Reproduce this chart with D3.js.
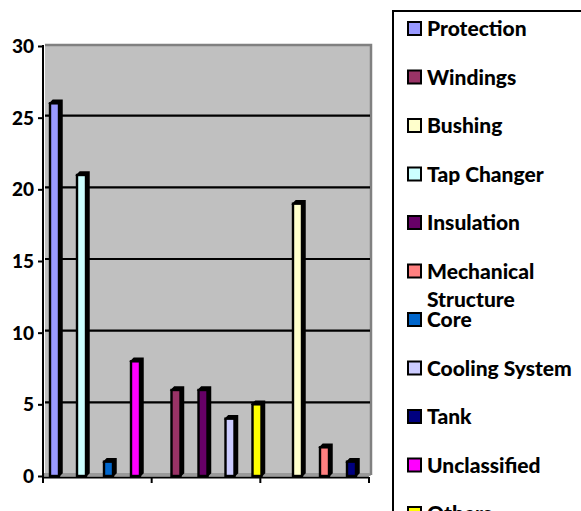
<!DOCTYPE html>
<html>
<head>
<meta charset="utf-8">
<script src="https://cdn.jsdelivr.net/npm/d3@7"></script>
<style>
  html, body { margin: 0; padding: 0; background: #fff; }
  svg { display: block; }
  text { font-family: Lato, "Open Sans", sans-serif; font-weight: 900; fill: #000; }
</style>
</head>
<body>
<svg id="chart" width="581" height="511"></svg>
<script>
// Failure counts per transformer component
const seriesNames = ["Protection", "Windings", "Bushing", "Tap Changer", "Insulation",
  "Mechanical Structure", "Core", "Cooling System", "Tank", "Unclassified", "Others"];
const seriesValues = [26, 6, 19, 21, 6, 2, 1, 4, 1, 8, 5];
const seriesColors = ["#9999FF", "#993366", "#FFFFCC", "#CCFFFF", "#660066",
  "#FF8080", "#0066CC", "#CCCCFF", "#000080", "#FF00FF", "#FFFF00"];
// Group (category) each series is drawn in, and its slot inside that group
const seriesGroup = [0, 1, 2, 0, 1, 2, 0, 1, 2, 0, 1];
const seriesSlot  = [0, 0, 0, 1, 1, 1, 2, 2, 2, 3, 3];
const categories = ["A", "B", "C"];
const yTicks = [0, 5, 10, 15, 20, 25, 30];

const svg = d3.select("#chart");

const plot = { left: 43, right: 370, top: 46, bottom: 476 };
const depth = 3;

const y = d3.scaleLinear().domain([0, 30]).range([plot.bottom, plot.top]);

// Category bands for the axis ticks
const xCat = d3.scaleBand().domain(categories).range([plot.left, 369]);
// Bar groups and slots
const xGroup = d3.scaleBand().domain([0, 1, 2]).range([42.5, 393.5]).paddingInner(13 / 117);
const xSlot = d3.scaleBand().domain([0, 1, 2, 3]).range([0, xGroup.bandwidth()]);

// Back wall
svg.append("rect")
  .attr("x", plot.left + 2).attr("y", plot.top - 2)
  .attr("width", plot.right + 1 - plot.left - 2).attr("height", plot.bottom - plot.top + 2)
  .attr("fill", "#C0C0C0");
svg.append("path")
  .attr("d", `M${plot.left + 2},${plot.top - 1}H${plot.right + 1}V${plot.bottom - 1}`)
  .attr("fill", "none").attr("stroke", "#808080").attr("stroke-width", 2.5);
// Floor strip
svg.append("rect")
  .attr("x", plot.left).attr("y", plot.bottom - 3)
  .attr("width", plot.right - plot.left).attr("height", 3)
  .attr("fill", "#9A9A9A");

// Gridlines on the back wall
svg.append("g").selectAll("line")
  .data(yTicks.filter(t => t > 0 && t < 30))
  .join("line")
  .attr("x1", plot.left + 2).attr("x2", plot.right)
  .attr("y1", d => y(d) - 2).attr("y2", d => y(d) - 2)
  .attr("stroke", "#000").attr("stroke-width", 2.2);

// Bars (front face plus dark top and side faces)
const bars = seriesNames.map((name, i) => ({
  name, value: seriesValues[i], color: seriesColors[i],
  cx: xGroup(seriesGroup[i]) + xSlot(seriesSlot[i]) + xSlot.bandwidth() / 2
}));
const barW = 9;
const gBars = svg.append("g");
bars.forEach(b => {
  const l = b.cx - 6, r = l + barW, t = y(b.value), btm = y(0);
  gBars.append("path")
    .attr("d", `M${l},${t}L${l + depth},${t - depth}H${r + depth}V${btm - depth}L${r},${btm}V${t}Z`)
    .attr("fill", "#000").attr("stroke", "#000").attr("stroke-width", 1.5);
  gBars.append("rect")
    .attr("x", l).attr("y", t).attr("width", barW).attr("height", btm - t)
    .attr("fill", b.color).attr("stroke", "#000").attr("stroke-width", 2.4);
});

// Y axis
const yAxis = svg.append("g").attr("transform", `translate(${plot.left},0)`)
  .call(d3.axisLeft(y).tickValues(yTicks).tickSize(5).tickPadding(4));
yAxis.select(".domain").remove();
yAxis.selectAll("line").attr("stroke", "#000").attr("stroke-width", 2);
yAxis.selectAll("text").attr("font-size", 19).style("font-family", "Lato, sans-serif")
  .style("font-weight", "900").attr("dy", "0.35em");
svg.append("line")
  .attr("x1", plot.left).attr("x2", plot.left)
  .attr("y1", plot.top - 1).attr("y2", plot.bottom + 7)
  .attr("stroke", "#000").attr("stroke-width", 2);

// X axis: boundary ticks only, no labels
const xBounds = categories.map(c => xCat(c)).concat([xCat.range()[1]]);
svg.append("line")
  .attr("x1", plot.left).attr("x2", 369)
  .attr("y1", plot.bottom + 1.5).attr("y2", plot.bottom + 1.5)
  .attr("stroke", "#000").attr("stroke-width", 2);
svg.append("g").selectAll("line").data(xBounds.slice(1)).join("line")
  .attr("x1", d => d).attr("x2", d => d)
  .attr("y1", plot.bottom + 1).attr("y2", plot.bottom + 7)
  .attr("stroke", "#000").attr("stroke-width", 2);

// Legend
const legend = svg.append("g");
legend.append("rect")
  .attr("x", 393).attr("y", 11).attr("width", 300).attr("height", 600)
  .attr("fill", "#fff").attr("stroke", "#000").attr("stroke-width", 2);
const legendY = d3.scalePoint().domain(seriesNames).range([29, 514]);
seriesNames.forEach((name, i) => {
  const cy = legendY(name);
  legend.append("rect")
    .attr("x", 408).attr("y", cy - 7).attr("width", 13).attr("height", 13)
    .attr("fill", seriesColors[i]).attr("stroke", "#000").attr("stroke-width", 2);
  const lines = name === "Mechanical Structure" ? ["Mechanical", "Structure"] : [name];
  lines.forEach((ln, k) => {
    legend.append("text")
      .attr("x", 427).attr("y", cy + k * 28)
      .attr("dy", "0.35em")
      .attr("font-size", 21)
      .text(ln);
  });
});
</script>
</body>
</html>
